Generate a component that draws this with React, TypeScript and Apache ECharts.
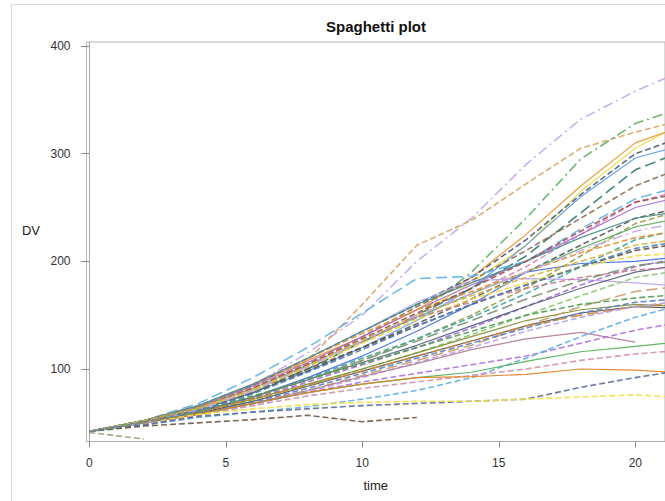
import React, { useEffect, useRef } from "react";
import * as echarts from "echarts";

const TIMES = [0, 2, 4, 6, 8, 10, 12, 14, 16, 18, 20, 22];
const X_TICKS = [0, 5, 10, 15, 20];
const Y_TICKS = [100, 200, 300, 400];

// DV values per subject, at TIMES (shorter arrays = subject ended earlier)
const S01 = [42, 52, 65, 85, 115, 150, 200, 240, 290, 332, 358, 380];
const S02 = [42, 52, 62, 80, 108, 160, 215, 238, 272, 305, 320, 333];
const S03 = [42, 50, 62, 80, 103, 125, 150, 190, 240, 295, 328, 345];
const S04 = [42, 50, 63, 80, 100, 125, 150, 180, 215, 265, 305, 332];
const S05 = [42, 52, 65, 85, 108, 130, 155, 185, 225, 270, 310, 328];
const S06 = [42, 50, 62, 78, 98, 120, 145, 175, 215, 260, 296, 310];
const S07 = [42, 52, 66, 85, 110, 135, 160, 185, 220, 262, 300, 318];
const S08 = [42, 50, 62, 78, 100, 125, 150, 175, 205, 245, 285, 305];
const S09 = [42, 52, 64, 82, 105, 130, 158, 182, 210, 240, 270, 290];
const S10 = [42, 52, 68, 92, 120, 152, 184, 186, 200, 230, 258, 272];
const S11 = [42, 50, 62, 80, 102, 125, 148, 170, 195, 225, 255, 268];
const S12 = [42, 52, 65, 84, 106, 130, 155, 178, 200, 225, 250, 262];
const S13 = [42, 50, 59, 73, 90, 108, 128, 150, 175, 205, 235, 250];
const S14 = [42, 51, 63, 80, 100, 120, 142, 165, 190, 215, 240, 252];
const S15 = [42, 52, 64, 82, 104, 126, 148, 170, 190, 212, 232, 242];
const S16 = [42, 50, 60, 74, 91, 110, 128, 148, 170, 195, 220, 232];
const S17 = [42, 52, 66, 86, 110, 133, 155, 172, 190, 208, 222, 230];
const S18 = [42, 50, 60, 74, 92, 112, 135, 160, 190, 198, 200, 205];
const S19 = [42, 52, 66, 86, 110, 135, 162, 182, 184, 183, 180, 176];
const S20 = [42, 50, 62, 78, 98, 120, 140, 160, 178, 195, 210, 218];
const S21 = [42, 51, 63, 80, 102, 124, 146, 165, 180, 195, 205, 208];
const S22 = [42, 50, 60, 72, 88, 104, 120, 138, 158, 178, 195, 205];
const S23 = [42, 51, 61, 74, 90, 106, 122, 140, 158, 175, 190, 198];
const S24 = [42, 50, 59, 71, 85, 100, 115, 132, 150, 168, 185, 193];
const S25 = [42, 52, 65, 83, 105, 128, 148, 162, 175, 185, 192, 195];
const S26 = [42, 50, 59, 70, 84, 98, 112, 126, 140, 152, 158, 156];
const S27 = [42, 51, 60, 72, 86, 100, 115, 130, 145, 155, 160, 158];
const S28 = [42, 50, 58, 68, 80, 94, 108, 122, 140, 158, 172, 178];
const S29 = [42, 52, 62, 75, 90, 105, 120, 135, 150, 160, 166, 170];
const S30 = [42, 50, 58, 69, 82, 96, 110, 124, 138, 152, 162, 166];
const S31 = [42, 51, 60, 72, 85, 98, 112, 126, 140, 150, 158, 162];
const S32 = [42, 50, 57, 67, 79, 92, 106, 120, 135, 148, 158, 164];
const S33 = [42, 50, 58, 68, 80, 93, 105, 118, 128, 134, 125];
const S34 = [42, 50, 58, 68, 78, 88, 96, 104, 112, 124, 136, 145];
const S35 = [42, 48, 55, 60, 65, 72, 80, 92, 110, 130, 148, 162];
const S36 = [42, 50, 58, 68, 78, 86, 92, 97, 107, 116, 121, 126];
const S37 = [42, 49, 57, 66, 75, 82, 88, 94, 100, 108, 114, 118];
const S38 = [42, 50, 58, 68, 78, 86, 92, 93, 95, 100, 99, 96];
const S39 = [42, 48, 56, 60, 63, 66, 68, 70, 72, 83, 92, 100];
const S40 = [42, 50, 58, 63, 67, 69, 70, 70, 72, 74, 76, 73];
const S41 = [42, 47, 50, 53, 57, 51, 55];
const S42 = [41, 35];
const S43 = [42, 52, 66, 86, 110, 135, 160, 180, 200, 222, 240, 248];
const S44 = [42, 51, 64, 82, 104, 128, 152, 175, 200, 228, 255, 265];
const S45 = [42, 52, 64, 81, 103, 127, 150, 168, 185, 200, 215, 222];
const S46 = [42, 50, 62, 80, 102, 126, 150, 170, 190, 210, 228, 238];
const S47 = [42, 50, 61, 77, 97, 118, 140, 160, 178, 195, 212, 220];
const S48 = [42, 50, 60, 74, 90, 108, 126, 145, 165, 182, 196, 202];

const SUBJECTS = [
  S01, S02, S03, S04, S05, S06, S07, S08, S09, S10, S11, S12, S13, S14, S15, S16,
  S17, S18, S19, S20, S21, S22, S23, S24, S25, S26, S27, S28, S29, S30, S31, S32,
  S33, S34, S35, S36, S37, S38, S39, S40, S41, S42, S43, S44, S45, S46, S47, S48,
];

// styles (color, dash)
const SOLID: any = "solid";
const DASH = [6, 3];
const LONG = [11, 5];
const DOT = [10, 4, 2, 4];
const STYLES: [string, any][] = [
  ["#C3A8F0", DOT], ["#D9A460", DASH], ["#5AAE61", DOT], ["#EFD83A", SOLID],
  ["#E8902A", SOLID], ["#5A9BEA", SOLID], ["#4D5B7A", DASH], ["#2F7A6E", LONG],
  ["#8E6B50", DASH], ["#5DB0E6", LONG], ["#D98AB8", DASH], ["#A66BD6", SOLID],
  ["#9AA04A", DASH], ["#5A5A5A", DASH], ["#5AAE61", SOLID], ["#3FA7A0", DASH],
  ["#E8902A", DASH], ["#3B6FD8", SOLID], ["#B9A0F0", SOLID], ["#6A5040", DASH],
  ["#EFD83A", DASH], ["#A66BD6", DASH], ["#4D5B7A", SOLID], ["#8CC870", DASH],
  ["#C97A8A", DASH], ["#4A4A4A", SOLID], ["#7E8A30", SOLID], ["#C8A070", LONG],
  ["#4E9E50", DASH], ["#5A7EC8", DASH], ["#D08A40", LONG], ["#B8A0E8", DASH],
  ["#B07898", SOLID], ["#B070E0", DASH], ["#5DB0E6", DASH], ["#4EAE50", SOLID],
  ["#D090B0", DASH], ["#E08020", SOLID], ["#5A6A9A", DASH], ["#F2E040", DASH],
  ["#6A5848", DASH], ["#9AA080", DASH], ["#3F8E88", SOLID], ["#A05050", DASH],
  ["#D8B040", DASH], ["#C8A8F0", DOT], ["#4A80B8", DASH], ["#7A9070", LONG],
];

export default function App() {
  const ref = useRef<HTMLDivElement>(null);
  useEffect(() => {
    if (!ref.current) return;
    const chart = echarts.init(ref.current, undefined, { renderer: "svg" });
    const series = SUBJECTS.map((vals, i) => {
      const [color, dash] = STYLES[i % STYLES.length];
      return {
        type: "line",
        data: vals.map((v, j) => [TIMES[j], v]),
        symbol: "none",
        silent: true,
        lineStyle: {
          color,
          width: dash === SOLID ? 1.2 : 1.6,
          type: dash,
          opacity: 0.9,
        },
      };
    });
    chart.setOption({
      animation: false,
      grid: {
        left: 86.5,
        top: 42,
        width: 580,
        height: 399.5,
        show: true,
        borderColor: "#b5b5b5",
        borderWidth: 1,
        containLabel: false,
      },
      graphic: [
        {
          type: "rect",
          shape: { x: 11.5, y: 4.5, width: 800, height: 600 },
          style: { fill: "none", stroke: "#d4d4d4", lineWidth: 1 },
          silent: true,
        },
        {
          type: "text",
          x: 376,
          y: 26,
          style: {
            text: "Spaghetti plot",
            font: 'bold 15px "Liberation Sans", Arial, sans-serif',
            fill: "#111",
            textAlign: "center",
            textVerticalAlign: "middle",
            align: "center",
            verticalAlign: "middle",
          },
        },
        {
          type: "text",
          x: 31,
          y: 230,
          style: {
            text: "DV",
            font: '13px "Liberation Sans", Arial, sans-serif',
            fill: "#222",
            textAlign: "center",
            textVerticalAlign: "middle",
            align: "center",
            verticalAlign: "middle",
          },
        },
      ],
      xAxis: {
        type: "value",
        min: -0.1,
        max: -0.1 + 580 / 27.375,
        name: "time",
        nameLocation: "middle",
        nameGap: 37,
        nameTextStyle: { color: "#222", fontSize: 13, fontFamily: "Liberation Sans" },
        axisLine: { show: true, lineStyle: { color: "#aaaaaa" } },
        axisTick: { show: true, customValues: X_TICKS, length: 6, lineStyle: { color: "#888" } },
        axisLabel: {
          customValues: X_TICKS,
          color: "#333",
          fontSize: 12,
          fontFamily: "Liberation Sans",
          margin: 15,
        },
        splitLine: { show: false },
      },
      yAxis: {
        type: "value",
        min: 32.66,
        max: 403.7,
        axisLine: { show: true, lineStyle: { color: "#aaaaaa" } },
        axisTick: { show: true, customValues: Y_TICKS, length: 8, lineStyle: { color: "#888" } },
        axisLabel: {
          customValues: Y_TICKS,
          color: "#333",
          fontSize: 12,
          fontFamily: "Liberation Sans",
          margin: 16,
        },
        splitLine: { show: false },
      },
      series,
    });
    return () => chart.dispose();
  }, []);
  return (
    <div
      ref={ref}
      style={{ position: "absolute", left: 0, top: 0, width: 665, height: 501, background: "#fff" }}
    />
  );
}
